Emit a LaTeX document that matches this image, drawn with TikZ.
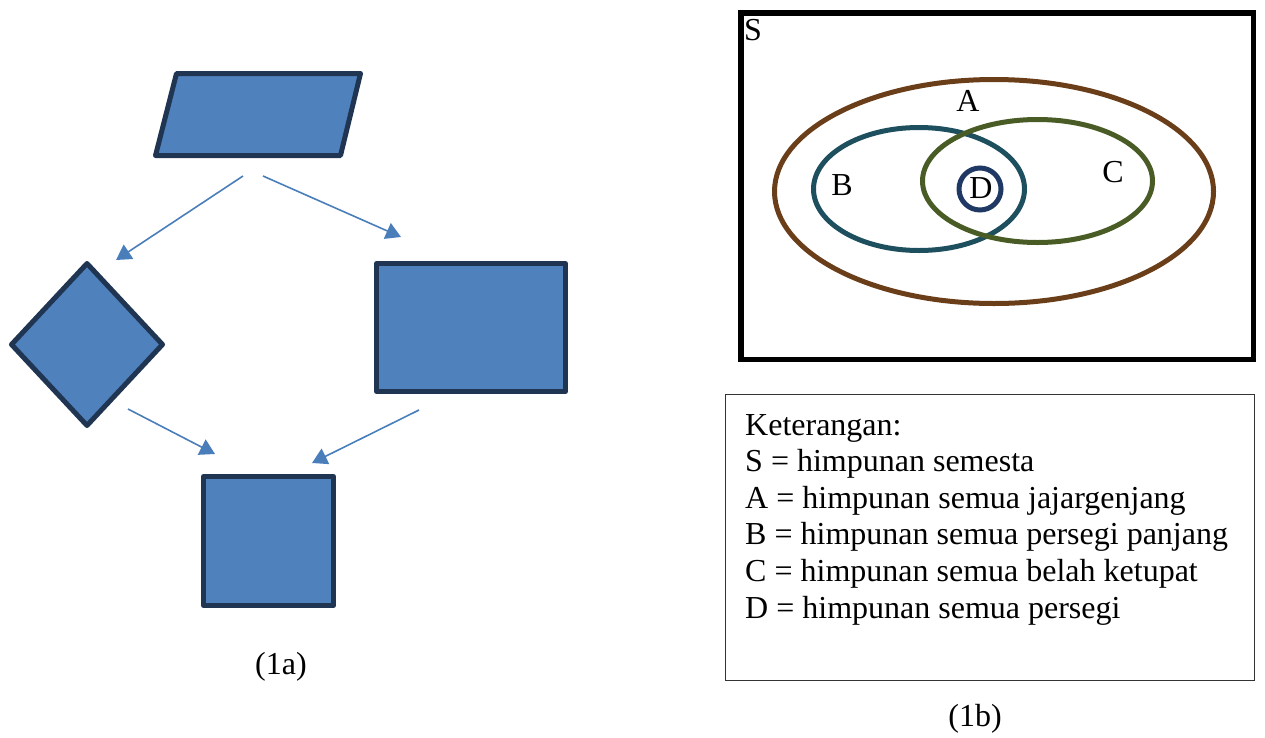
\documentclass[tikz,border=0pt]{standalone}
\usepackage{fontspec}
\setmainfont{Liberation Serif}
\usetikzlibrary{arrows.meta,shapes.geometric}
\definecolor{shapefill}{HTML}{4F81BD}
\definecolor{shapeedge}{HTML}{1F3552}
\definecolor{arrowblue}{HTML}{4A7EBB}
\definecolor{setA}{HTML}{6B3E1A}
\definecolor{setB}{HTML}{1D4F5E}
\definecolor{setC}{HTML}{4A5C25}
\definecolor{setD}{HTML}{1F3864}
\definecolor{legendedge}{HTML}{333333}
\begin{document}
\begin{tikzpicture}[x=1pt,y=-1pt,
  flowshape/.style={draw=shapeedge, fill=shapefill, line width=5pt, line join=round, inner sep=0pt, outer sep=0pt},
  flowarrow/.style={draw=arrowblue, line width=1.6pt, -{Triangle[length=15pt,width=17pt]}},
  vset/.style={draw, ellipse, line width=5pt, inner sep=0pt},
  lbl/.style={font=\fontsize{32}{36}\selectfont, inner sep=0pt},
  ]
\useasboundingbox (0,0) rectangle (1265,737);

% ---------- (1a) ----------
\draw[flowshape] (176.5,73.5) -- (360.5,73.5) -- (340.5,155.5) -- (155.5,155.5) -- cycle;
\node[flowshape, diamond, minimum width=151, minimum height=162] (dia) at (87,344.5) {};
\node[flowshape, rectangle, minimum width=189, minimum height=128] (rect) at (471,327.5) {};
\node[flowshape, rectangle, minimum width=130, minimum height=129] (sq) at (268.5,541) {};

\coordinate (a1s) at (243,176); \coordinate (a1e) at (116,260);
\coordinate (a2s) at (263,176); \coordinate (a2e) at (401,237);
\coordinate (a3s) at (128,409); \coordinate (a3e) at (215,454);
\coordinate (a4s) at (419,410); \coordinate (a4e) at (312,463);
\draw[flowarrow] (a1s) -- (a1e);
\draw[flowarrow] (a2s) -- (a2e);
\draw[flowarrow] (a3s) -- (a3e);
\draw[flowarrow] (a4s) -- (a4e);

\node[lbl] (capA) at (281,667) {(1a)};

% ---------- (1b) ----------
\node[draw, line width=5.5pt, minimum width=512.5, minimum height=346.5, inner sep=0pt] (S) at (997,186) {};
\node[lbl, anchor=base west] (Slbl) at (744,40) {S};
\node[vset, draw=setA, minimum width=439, minimum height=224] (A) at (994,191.5) {};
\node[vset, draw=setB, minimum width=211, minimum height=123] (B) at (919,189) {};
\node[vset, draw=setC, minimum width=230, minimum height=123] (C) at (1037.5,181) {};
\node[vset, draw=setD, circle, minimum size=42] (D) at (980,189) {};
\node[lbl] (Albl) at (968,101) {A};
\node[lbl] (Blbl) at (842,185) {B};
\node[lbl] (Clbl) at (1113,172) {C};
\node[lbl] (Dlbl) at (981,188) {D};

\node[draw=legendedge, line width=1.2pt, minimum width=529, minimum height=286, inner sep=0pt] (legend) at (990,537.5) {};
\node[lbl, anchor=base west] (k0) at (745,435) {Keterangan:};
\node[lbl, anchor=base west] (k1) at (745,471) {S = himpunan semesta};
\node[lbl, anchor=base west] (k2) at (745,508) {A = himpunan semua jajargenjang};
\node[lbl, anchor=base west] (k3) at (745,544) {B = himpunan semua persegi panjang};
\node[lbl, anchor=base west] (k4) at (745,581) {C = himpunan semua belah ketupat};
\node[lbl, anchor=base west] (k5) at (745,618) {D = himpunan semua persegi};

\node[lbl] (capB) at (975,719) {(1b)};
\end{tikzpicture}
\end{document}
